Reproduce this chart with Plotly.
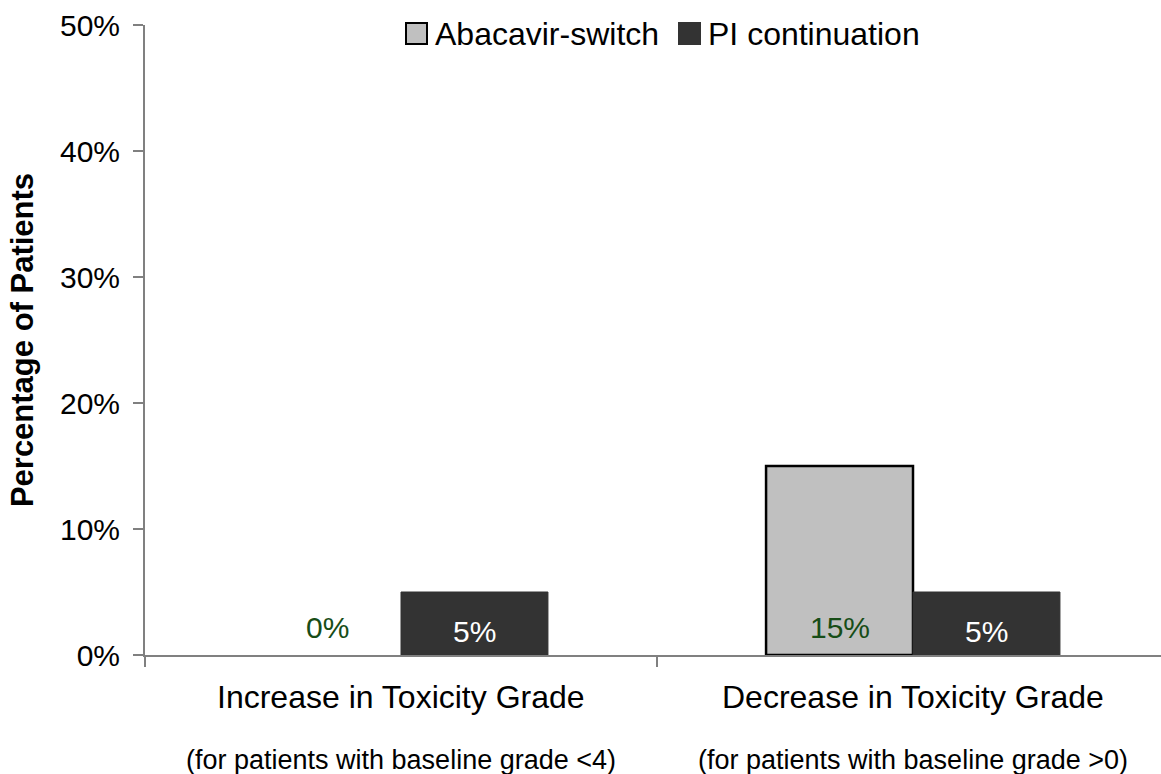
import plotly.graph_objects as go

# Chart data
categories = ["Increase in Toxicity Grade", "Decrease in Toxicity Grade"]
subtitles = ["(for patients with baseline grade <4)", "(for patients with baseline grade >0)"]
series_names = ["Abacavir-switch", "PI continuation"]
abacavir_switch = [0, 15]
pi_continuation = [5, 5]
y_ticks = [0, 10, 20, 30, 40, 50]

FONT = "Liberation Sans, Arial, sans-serif"
LIGHT = "#c0c0c0"
DARK = "#333333"
GREEN = "#174d17"
AXIS = "#808080"
BAR_W = 0.287

W, H = 1161, 774
ML, MR, MT, MB = 145, 0, 25, 119
plot_w = W - ML - MR
plot_h = H - MT - MB


def px_x(p):
    """figure pixel column -> paper x"""
    return (p - ML) / plot_w


def px_y(p):
    """figure pixel row -> paper y"""
    return (H - MB - p) / plot_h


xs = list(range(len(categories)))
# category boundaries carry the x tick marks
x_bounds = [i - 0.5 for i in range(len(categories) + 1)]

fig = go.Figure()
fig.add_trace(go.Bar(
    x=xs, y=abacavir_switch, name=series_names[0],
    width=BAR_W, offset=-BAR_W,
    marker=dict(color=LIGHT,
                line=dict(color="#000000",
                          width=[2.5 if v > 0 else 0 for v in abacavir_switch])),
    showlegend=False, hoverinfo="skip",
))
fig.add_trace(go.Bar(
    x=xs, y=pi_continuation, name=series_names[1],
    width=BAR_W, offset=0,
    marker=dict(color=DARK, line=dict(color=DARK, width=1)),
    showlegend=False, hoverinfo="skip",
))

annotations = []
# value labels near the base of each bar
for i, v in enumerate(abacavir_switch):
    annotations.append(dict(
        x=i - BAR_W / 2, y=0, xref="x", yref="y", text=f"{v}%",
        showarrow=False, yanchor="middle", yshift=28,
        font=dict(family=FONT, size=30, color=GREEN),
    ))
for i, v in enumerate(pi_continuation):
    annotations.append(dict(
        x=i + BAR_W / 2, y=0, xref="x", yref="y", text=f"{v}%",
        showarrow=False, yanchor="middle", yshift=24,
        font=dict(family=FONT, size=30, color="#ffffff"),
    ))
# category labels and their notes under the axis
for i, (cat, sub) in enumerate(zip(categories, subtitles)):
    annotations.append(dict(
        x=i, y=px_y(697), xref="x", yref="paper", text=cat, showarrow=False,
        yanchor="middle", font=dict(family=FONT, size=32, color="#000000"),
    ))
    annotations.append(dict(
        x=i, y=px_y(760), xref="x", yref="paper", text=sub, showarrow=False,
        yanchor="middle", font=dict(family=FONT, size=27, color="#000000"),
    ))

# legend: swatch + label for each series
legend_items = [(series_names[0], 406, LIGHT, "#000000"),
                (series_names[1], 679, DARK, DARK)]
shapes = []
for name, sx, fill, edge in legend_items:
    shapes.append(dict(
        type="rect", xref="paper", yref="paper",
        x0=px_x(sx), x1=px_x(sx + 21), y0=px_y(44), y1=px_y(23),
        fillcolor=fill, line=dict(color=edge, width=2),
    ))
    annotations.append(dict(
        x=px_x(sx + 27), y=px_y(34), xref="paper", yref="paper", text=name,
        showarrow=False, xanchor="left", yanchor="middle",
        font=dict(family=FONT, size=32, color="#000000"),
    ))

fig.update_layout(
    width=W, height=H,
    margin=dict(l=ML, r=MR, t=MT, b=MB),
    paper_bgcolor="#ffffff", plot_bgcolor="#ffffff",
    barmode="group",
    font=dict(family=FONT, size=30, color="#000000"),
    annotations=annotations,
    shapes=shapes,
)

fig.update_xaxes(
    range=[-0.5, -0.5 + plot_w / 512],
    showticklabels=False, showgrid=False, zeroline=False,
    showline=True, linecolor=AXIS, linewidth=2,
    ticks="outside", ticklen=10, tickwidth=2, tickcolor=AXIS,
    tickmode="array", tickvals=x_bounds,
)
fig.update_yaxes(
    range=[0, 50], tickmode="array", tickvals=y_ticks,
    ticktext=[f"{t}%" for t in y_ticks],
    showgrid=False, zeroline=False,
    showline=True, linecolor=AXIS, linewidth=2,
    ticks="outside", ticklen=10, tickwidth=2, tickcolor=AXIS,
    ticklabelstandoff=7,
    tickfont=dict(family=FONT, size=30, color="#000000"),
    title=dict(text="<b>Percentage of Patients</b>", standoff=17,
               font=dict(family=FONT, size=31, color="#000000")),
)

fig.write_html("out.html")
